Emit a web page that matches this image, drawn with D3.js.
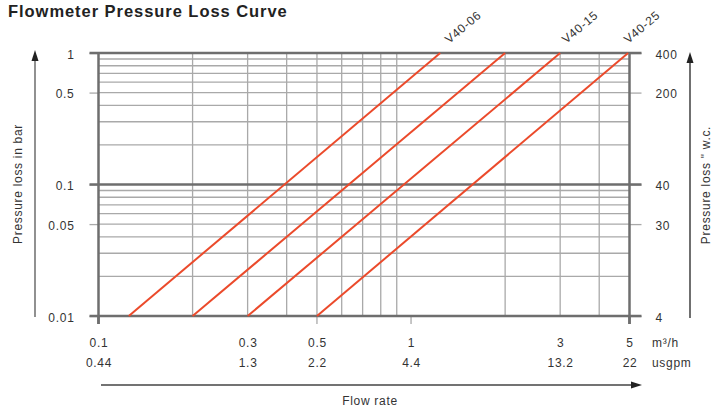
<!DOCTYPE html>
<html>
<head>
<meta charset="utf-8">
<script src="https://cdn.jsdelivr.net/npm/d3@7"></script>
<style>
  body { margin: 0; background: #fff; }
  svg { display: block; font-family: "Liberation Sans", Arial, sans-serif; }
  .lbl { letter-spacing: 0.7px; }
</style>
</head>
<body>
<svg width="722" height="409"></svg>
<script>
// series: each valve's curve, flow (m3/h) at 0.01 bar and at 1 bar
const seriesNames = ["V40-06", "", "V40-15", "V40-25"];
const flowAtLow = [0.125, 0.2, 0.3, 0.5];
const flowAtHigh = [1.24, 2.0, 3.0, 4.95];
const pressureEnds = [0.01, 1];

// axis ticks
const barTicks = [1, 0.5, 0.1, 0.05, 0.01];
const inchLabels = ["400", "200", "40", "30", "4"];
const flowTicks = [0.1, 0.3, 0.5, 1, 3, 5];
const gpmLabels = ["0.44", "1.3", "2.2", "4.4", "13.2", "22"];
const flowTickMarks = [0.1, 0.5, 1, 5];
const minorFlow = [0.2, 0.3, 0.4, 0.5, 0.6, 0.7, 0.8, 0.9, 2, 3, 4];
const minorBar = [0.02, 0.03, 0.04, 0.05, 0.06, 0.07, 0.08, 0.09,
                  0.2, 0.3, 0.4, 0.5, 0.6, 0.7, 0.8, 0.9];
const majorBar = [0.01, 0.1, 1];

const svg = d3.select("svg");

const x = d3.scaleLog().domain([0.1, 5]).range([98.5, 629.5]);
const y = d3.scaleLog().domain([0.01, 1]).range([316, 53]);

const dark = "#6e6e6e", grid = "#a9a9a9", ink = "#333";

// title
svg.append("text")
    .attr("x", 8).attr("y", 17)
    .attr("font-size", 16.5).attr("font-weight", "bold")
    .attr("letter-spacing", 0.95)
    .attr("fill", "#222")
    .text("Flowmeter Pressure Loss Curve");

// minor grid
svg.append("g").selectAll("line")
  .data(minorFlow)
  .join("line")
    .attr("x1", d => x(d)).attr("x2", d => x(d))
    .attr("y1", y(1)).attr("y2", y(0.01))
    .attr("stroke", grid).attr("stroke-width", 1.3);

svg.append("g").selectAll("line")
  .data(minorBar)
  .join("line")
    .attr("x1", x(0.1)).attr("x2", x(5))
    .attr("y1", d => y(d)).attr("y2", d => y(d))
    .attr("stroke", grid).attr("stroke-width", 1.3);

// bottom tick marks
svg.append("g").selectAll("line")
  .data(flowTickMarks)
  .join("line")
    .attr("x1", d => x(d)).attr("x2", d => x(d))
    .attr("y1", y(0.01)).attr("y2", y(0.01) + 8)
    .attr("stroke", d => (d == 0.1 || d == 5) ? dark : grid)
    .attr("stroke-width", d => (d == 0.1 || d == 5) ? 2.5 : 1.3);

// left / right axes (thin ticks), labels
const leftAxis = d3.axisLeft(y)
    .tickValues(barTicks)
    .tickFormat(d3.format("~g"))
    .tickSize(9).tickPadding(15);
const gl = svg.append("g").attr("transform", `translate(${x(0.1)},0)`).call(leftAxis);

const rightAxis = d3.axisRight(y)
    .tickValues(barTicks)
    .tickFormat((d, i) => inchLabels[i])
    .tickSize(12).tickPadding(14);
const gr = svg.append("g").attr("transform", `translate(${x(5)},0)`).call(rightAxis);

[gl, gr].forEach(g => {
  g.select(".domain").remove();
  g.selectAll(".tick line").attr("stroke", grid).attr("stroke-width", 1.3);
  g.selectAll(".tick text")
    .attr("class", "lbl")
    .attr("font-size", 12).attr("fill", ink)
    .attr("font-family", "Liberation Sans, Arial, sans-serif")
    .attr("dy", "0.45em");
});

// major horizontal lines
svg.append("g").selectAll("line")
  .data(majorBar)
  .join("line")
    .attr("x1", x(0.1) - 9).attr("x2", x(5) + 12)
    .attr("y1", d => y(d)).attr("y2", d => y(d))
    .attr("stroke", dark).attr("stroke-width", 2.5);

// frame verticals
svg.append("g").selectAll("line")
  .data([0.1, 5])
  .join("line")
    .attr("x1", d => x(d)).attr("x2", d => x(d))
    .attr("y1", y(1)).attr("y2", y(0.01) + 8)
    .attr("stroke", dark).attr("stroke-width", 2.5);

// bottom labels, two rows
const row1 = d3.axisBottom(x).tickValues(flowTicks)
    .tickFormat(d3.format("~g")).tickSize(0).tickPadding(22.5);
const row2 = d3.axisBottom(x).tickValues(flowTicks)
    .tickFormat((d, i) => gpmLabels[i]).tickSize(0).tickPadding(42.5);
[row1, row2].forEach(ax => {
  const g = svg.append("g").attr("transform", `translate(0,${y(0.01)})`).call(ax);
  g.select(".domain").remove();
  g.selectAll(".tick text")
    .attr("class", "lbl")
    .attr("font-size", 12).attr("fill", ink)
    .attr("font-family", "Liberation Sans, Arial, sans-serif");
});

svg.append("text").attr("class", "lbl").attr("x", 652).attr("y", 347)
    .attr("font-size", 12).attr("fill", ink).text("m³/h");
svg.append("text").attr("class", "lbl").attr("x", 652).attr("y", 367)
    .attr("font-size", 12).attr("fill", ink).text("usgpm");

// curves
const curves = seriesNames.map((name, i) => ({
  name: name,
  pts: [[flowAtLow[i], pressureEnds[0]], [flowAtHigh[i], pressureEnds[1]]]
}));
const line = d3.line().x(d => x(d[0])).y(d => y(d[1]));

svg.append("g").selectAll("path")
  .data(curves)
  .join("path")
    .attr("d", d => line(d.pts))
    .attr("fill", "none")
    .attr("stroke", "#eb4a2b")
    .attr("stroke-width", 2);

const labelDx = [9, 0, 6, 0];
svg.append("g").selectAll("text")
  .data(curves.filter(d => d.name))
  .join("text")
    .attr("class", "lbl")
    .attr("transform", d => {
      const i = curves.indexOf(d);
      return `translate(${x(d.pts[1][0]) + labelDx[i]},44) rotate(-40)`;
    })
    .attr("font-size", 12).attr("fill", ink)
    .text(d => d.name);

// arrows + axis titles
const arrowHead = (px, py, dir) => {
  // dir: "up" or "right"
  const p = dir === "up"
    ? [[px, py], [px - 3.5, py + 11], [px + 3.5, py + 11]]
    : [[px, py], [px - 11, py - 3.5], [px - 11, py + 3.5]];
  svg.append("path").attr("d", d3.line()(p) + "Z").attr("fill", "#222");
};

svg.append("line").attr("x1", 35).attr("x2", 35).attr("y1", 56).attr("y2", 317)
    .attr("stroke", "#555").attr("stroke-width", 1.3);
arrowHead(35, 50, "up");
svg.append("line").attr("x1", 690).attr("x2", 690).attr("y1", 56).attr("y2", 318)
    .attr("stroke", "#222").attr("stroke-width", 1.3);
arrowHead(690, 52, "up");
svg.append("line").attr("x1", 101).attr("x2", 636).attr("y1", 385).attr("y2", 385)
    .attr("stroke", "#444").attr("stroke-width", 1.3);
arrowHead(642, 385, "right");

svg.append("text").attr("class", "lbl")
    .attr("transform", "translate(22,184) rotate(-90)")
    .attr("text-anchor", "middle")
    .attr("font-size", 12).attr("fill", ink)
    .text("Pressure loss in bar");
svg.append("text").attr("class", "lbl")
    .attr("transform", "translate(710,185) rotate(-90)")
    .attr("text-anchor", "middle")
    .attr("font-size", 12).attr("fill", ink)
    .text("Pressure loss \" w.c.");
svg.append("text").attr("class", "lbl")
    .attr("x", 370).attr("y", 405)
    .attr("text-anchor", "middle")
    .attr("font-size", 12).attr("fill", ink)
    .text("Flow rate");
</script>
</body>
</html>
